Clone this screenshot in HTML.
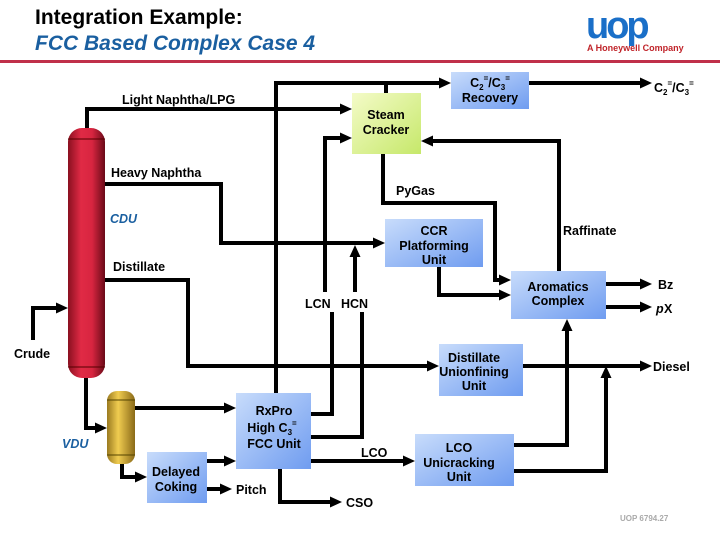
<!DOCTYPE html>
<html><head><meta charset="utf-8"><style>
html,body{margin:0;padding:0;background:#fff;}
svg{display:block}
text{font-family:"Liberation Sans",sans-serif;font-weight:bold;}
</style></head><body>
<svg width="720" height="540" viewBox="0 0 720 540" xmlns="http://www.w3.org/2000/svg">
<defs>
<linearGradient id="blue" x1="0" y1="0" x2="1" y2="1"><stop offset="0" stop-color="#c8dcfb"/><stop offset="1" stop-color="#6f9cf0"/></linearGradient>
<linearGradient id="green" x1="0" y1="0" x2="1" y2="1"><stop offset="0" stop-color="#f4fbc8"/><stop offset="1" stop-color="#c6e86a"/></linearGradient>
<linearGradient id="red" x1="0" y1="0" x2="1" y2="0"><stop offset="0" stop-color="#8a1020"/><stop offset="0.35" stop-color="#e02a45"/><stop offset="0.65" stop-color="#d82540"/><stop offset="1" stop-color="#6a0a18"/></linearGradient>
<linearGradient id="gold" x1="0" y1="0" x2="1" y2="0"><stop offset="0" stop-color="#9a7a20"/><stop offset="0.4" stop-color="#f0cc50"/><stop offset="1" stop-color="#8a6a18"/></linearGradient>
<marker id="a" markerWidth="12" markerHeight="12" refX="6" refY="6" orient="auto" markerUnits="userSpaceOnUse"><path d="M0,0.5 L12,6 L0,11.5 z" fill="#000"/></marker>
</defs>
<text x="35" y="24" font-size="21" fill="#000">Integration Example:</text>
<text x="35" y="50" font-size="21" font-style="italic" fill="#1a5fa0">FCC Based Complex Case 4</text>
<rect x="0" y="60" width="720" height="3" fill="#c0304a"/>
<text x="586" y="38" font-size="38" fill="#1a6fc8" style="letter-spacing:-3px">uop</text>
<text x="587" y="51" font-size="9" fill="#c0242a">A Honeywell Company</text>

<rect x="68" y="128" width="37" height="250" rx="14" fill="url(#red)"/>
<line x1="68" y1="139" x2="105" y2="139" stroke="#500" stroke-width="1"/>
<line x1="68" y1="367" x2="105" y2="367" stroke="#500" stroke-width="1"/>
<rect x="107" y="391" width="28" height="73" rx="10" fill="url(#gold)"/>
<line x1="107" y1="400" x2="135" y2="400" stroke="#540" stroke-width="1"/>
<line x1="107" y1="455" x2="135" y2="455" stroke="#540" stroke-width="1"/>

<rect x="451" y="72" width="78" height="37" fill="url(#blue)"/>
<rect x="352" y="93" width="69" height="61" fill="url(#green)"/>
<rect x="385" y="219" width="98" height="48" fill="url(#blue)"/>
<rect x="511" y="271" width="95" height="48" fill="url(#blue)"/>
<rect x="439" y="344" width="84" height="52" fill="url(#blue)"/>
<rect x="236" y="393" width="75" height="76" fill="url(#blue)"/>
<rect x="147" y="452" width="60" height="51" fill="url(#blue)"/>
<rect x="415" y="434" width="99" height="52" fill="url(#blue)"/>

<g fill="none" stroke="#000" stroke-width="4" stroke-linejoin="miter">
<polyline points="87,128 87,109 346,109" marker-end="url(#a)"/>
<polyline points="276,393 276,83 445,83" marker-end="url(#a)"/>
<line x1="386" y1="93" x2="386" y2="83"/>
<polyline points="529,83 646,83" marker-end="url(#a)"/>
<polyline points="325,292 325,138 346,138" marker-end="url(#a)"/>
<polyline points="105,184 221,184 221,243 379,243" marker-end="url(#a)"/>
<polyline points="355,292 355,251" marker-end="url(#a)"/>
<polyline points="383,154 383,203 495,203 495,280 505,280" marker-end="url(#a)"/>
<polyline points="439,267 439,295 505,295" marker-end="url(#a)"/>
<polyline points="559,271 559,141 427,141" marker-end="url(#a)"/>
<polyline points="606,284 646,284" marker-end="url(#a)"/>
<polyline points="606,307 646,307" marker-end="url(#a)"/>
<polyline points="105,280 188,280 188,366 433,366" marker-end="url(#a)"/>
<polyline points="523,366 646,366" marker-end="url(#a)"/>
<polyline points="33,340 33,308 62,308" marker-end="url(#a)"/>
<polyline points="86,378 86,428 101,428" marker-end="url(#a)"/>
<polyline points="122,464 122,477 141,477" marker-end="url(#a)"/>
<polyline points="135,408 230,408" marker-end="url(#a)"/>
<polyline points="207,461 230,461" marker-end="url(#a)"/>
<polyline points="207,489 226,489" marker-end="url(#a)"/>
<polyline points="280,469 280,502 336,502" marker-end="url(#a)"/>
<polyline points="311,461 409,461" marker-end="url(#a)"/>
<polyline points="311,414 332,414 332,312"/>
<polyline points="311,437 362,437 362,312"/>
<polyline points="514,445 567,445 567,325" marker-end="url(#a)"/>
<polyline points="514,471 606,471 606,372" marker-end="url(#a)"/>
</g>

<g font-size="12.5" fill="#000">
<text x="122" y="104">Light Naphtha/LPG</text>
<text x="111" y="177">Heavy Naphtha</text>
<text x="110" y="223" font-style="italic" fill="#1a5fa0">CDU</text>
<text x="113" y="271">Distillate</text>
<text x="396" y="195">PyGas</text>
<text x="305" y="308">LCN</text>
<text x="341" y="308">HCN</text>
<text x="14" y="358">Crude</text>
<text x="62" y="448" font-style="italic" fill="#1a5fa0">VDU</text>
<text x="236" y="494">Pitch</text>
<text x="346" y="507">CSO</text>
<text x="361" y="457">LCO</text>
<text x="563" y="235">Raffinate</text>
<text x="658" y="289">Bz</text>
<text x="656" y="313" font-style="italic">p</text><text x="664" y="313">X</text>
<text x="653" y="371">Diesel</text>
<text x="654" y="92">C<tspan font-size="8" dy="3">2</tspan><tspan font-size="8" dy="-9">=</tspan><tspan dy="6">/C</tspan><tspan font-size="8" dy="3">3</tspan><tspan font-size="8" dy="-9">=</tspan></text>
</g>
<g font-size="12.5" fill="#000" text-anchor="middle">
<text x="490" y="87">C<tspan font-size="8" dy="3">2</tspan><tspan font-size="8" dy="-9">=</tspan><tspan dy="6">/C</tspan><tspan font-size="8" dy="3">3</tspan><tspan font-size="8" dy="-9">=</tspan></text>
<text x="490" y="102">Recovery</text>
<text x="386" y="119">Steam</text>
<text x="386" y="134">Cracker</text>
<text x="434" y="235">CCR</text>
<text x="434" y="250">Platforming</text>
<text x="434" y="264">Unit</text>
<text x="558" y="291">Aromatics</text>
<text x="558" y="305">Complex</text>
<text x="474" y="362">Distillate</text>
<text x="474" y="376">Unionfining</text>
<text x="474" y="390">Unit</text>
<text x="274" y="415">RxPro</text>
<text x="272" y="432">High C<tspan font-size="8" dy="3">3</tspan><tspan font-size="8" dy="-9">=</tspan></text>
<text x="274" y="448">FCC Unit</text>
<text x="176" y="476">Delayed</text>
<text x="176" y="491">Coking</text>
<text x="459" y="452">LCO</text>
<text x="459" y="467">Unicracking</text>
<text x="459" y="481">Unit</text>
</g>
<text x="620" y="521" font-size="8" fill="#aaa" font-weight="normal">UOP 6794.27</text>
</svg>
</body></html>
